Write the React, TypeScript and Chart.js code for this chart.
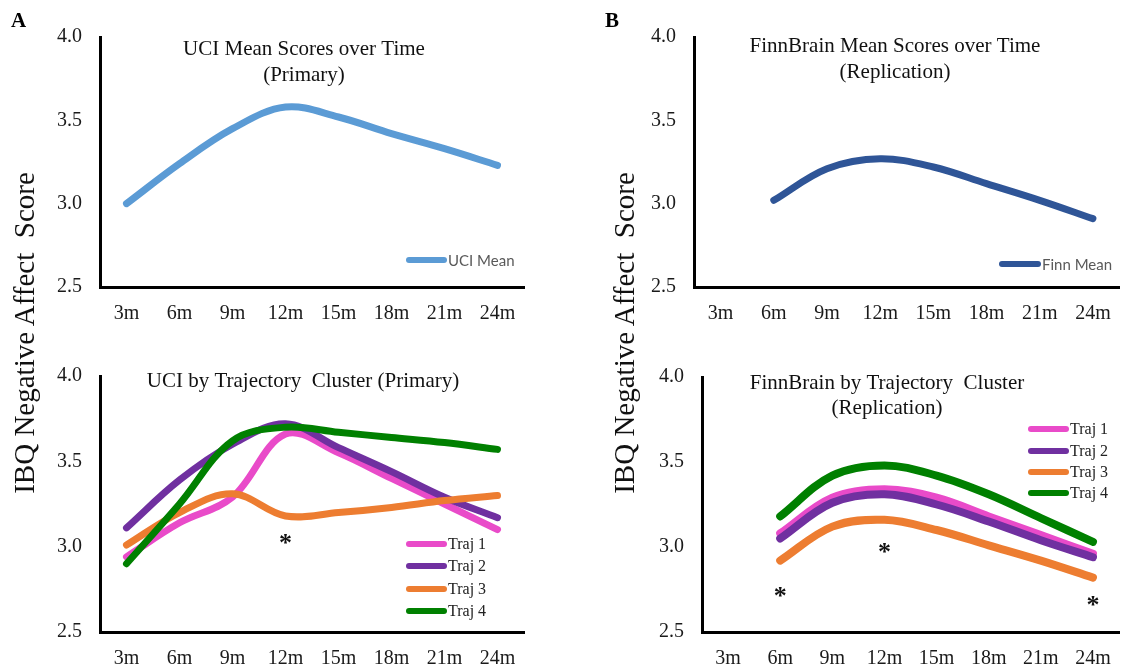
import React, { useEffect, useRef } from "react";
import { Chart, registerables } from "chart.js";
Chart.register(...registerables);

// ---------- data ----------
const months = ["3m", "6m", "9m", "12m", "15m", "18m", "21m", "24m"];
const yTicks = [2.5, 3.0, 3.5, 4.0];

const uciMean = [3.0, 3.24, 3.45, 3.58, 3.52, 3.42, 3.33, 3.23];
const finnMean = [null, 3.02, 3.21, 3.27, 3.22, 3.12, 3.02, 2.91];

const uciTraj1 = [2.94, 3.14, 3.29, 3.66, 3.55, 3.4, 3.25, 3.1];
const uciTraj2 = [3.11, 3.39, 3.6, 3.72, 3.58, 3.44, 3.29, 3.17];
const uciTraj3 = [3.01, 3.2, 3.31, 3.18, 3.2, 3.23, 3.27, 3.3];
const uciTraj4 = [2.9, 3.25, 3.62, 3.7, 3.67, 3.64, 3.61, 3.57];

const finnTraj1 = [null, 3.08, 3.29, 3.34, 3.29, 3.18, 3.07, 2.96];
const finnTraj2 = [null, 3.05, 3.26, 3.31, 3.25, 3.15, 3.04, 2.94];
const finnTraj3 = [null, 2.92, 3.12, 3.16, 3.1, 3.01, 2.92, 2.82];
const finnTraj4 = [null, 3.18, 3.42, 3.48, 3.42, 3.31, 3.17, 3.03];

const trajLabels = ["Traj 1", "Traj 2", "Traj 3", "Traj 4"];
const uciStarMonths = ["12m"];
const uciStarValues = [3.05];
const finnStarMonths = ["6m", "12m", "24m"];
const finnStarValues = [2.74, 3.0, 2.69];

// ---------- styles ----------
const COLORS = {
  uci: "#5B9BD5",
  finn: "#2F5597",
  traj: ["#E94BC9", "#7030A0", "#ED7D31", "#008000"],
};
const SERIF = "'Liberation Serif', 'Times New Roman', serif";
const tickFont = { family: SERIF, size: 20 };

const decorPlugin = {
  id: "decor",
  afterDatasetsDraw(chart: any, _args: any, opts: any) {
    const ctx = chart.ctx;
    ctx.save();
    // titles
    ctx.fillStyle = "#111";
    ctx.textAlign = "center";
    ctx.textBaseline = "middle";
    ctx.font = `21px ${SERIF}`;
    (opts.titles || []).forEach((t: any) => ctx.fillText(t.text, t.x, t.y));
    // legend
    const lg = opts.legend;
    if (lg) {
      chart.data.datasets.forEach((ds: any, i: number) => {
        const y = lg.ys[i];
        ctx.strokeStyle = ds.borderColor;
        ctx.lineWidth = 6;
        ctx.lineCap = "round";
        ctx.beginPath();
        ctx.moveTo(lg.x0 + 3, y);
        ctx.lineTo(lg.x1 - 3, y);
        ctx.stroke();
        ctx.fillStyle = lg.color;
        ctx.font = lg.font;
        ctx.textAlign = "left";
        ctx.textBaseline = "middle";
        ctx.fillText(ds.label, lg.x1 + 1, y + 1);
      });
    }
    // significance stars
    const st = opts.stars;
    if (st) {
      const xs = chart.scales.x;
      const ys = chart.scales.y;
      ctx.fillStyle = "#111";
      ctx.font = `bold 26px ${SERIF}`;
      ctx.textAlign = "center";
      ctx.textBaseline = "alphabetic";
      st.months.forEach((m: string, i: number) => {
        const px = xs.getPixelForValue(months.indexOf(m));
        const py = ys.getPixelForValue(st.values[i]);
        ctx.fillText("*", px, py + 26 * 0.5);
      });
    }
    ctx.restore();
  },
};

type Panel = {
  w: number;
  h: number;
  left: number;
  right: number;
  top: number;
  bottom: number;
  lineWidth: number;
  datasets: { label: string; data: (number | null)[]; color: string }[];
  decor: any;
};

function buildConfig(p: Panel): any {
  return {
    type: "line",
    data: {
      labels: months,
      datasets: p.datasets.map((d, i) => ({
        label: d.label,
        data: d.data,
        borderColor: d.color,
        backgroundColor: d.color,
        borderWidth: p.lineWidth,
        pointRadius: 0,
        tension: 0.36,
        borderCapStyle: "round",
        borderJoinStyle: "round",
        fill: false,
        order: p.datasets.length - i,
      })),
    },
    options: {
      responsive: false,
      maintainAspectRatio: false,
      animation: false,
      devicePixelRatio: 1,
      layout: { padding: { left: 0, top: p.top, right: p.w - p.right, bottom: 0 } },
      plugins: {
        legend: { display: false },
        tooltip: { enabled: false },
        title: { display: false },
        decor: p.decor,
      },
      scales: {
        x: {
          type: "category",
          offset: true,
          grid: { display: false, drawTicks: false },
          border: { display: true, color: "#000", width: 3 },
          ticks: { font: tickFont, color: "#1a1a1a", padding: 15, maxRotation: 0, autoSkip: false },
          afterFit: (s: any) => {
            s.height = p.h - p.bottom;
          },
        },
        y: {
          min: 2.5,
          max: 4.0,
          grid: { display: false, drawTicks: false },
          border: { display: true, color: "#000", width: 3 },
          afterBuildTicks: (s: any) => {
            s.ticks = yTicks.map((v) => ({ value: v }));
          },
          ticks: {
            font: tickFont,
            color: "#1a1a1a",
            padding: 18,
            callback: (v: any) => Number(v).toFixed(1),
          },
          afterFit: (s: any) => {
            s.width = p.left;
          },
        },
      },
    },
    plugins: [decorPlugin],
  };
}

function ChartPanel({ x, y, panel }: { x: number; y: number; panel: Panel }) {
  const ref = useRef<HTMLCanvasElement | null>(null);
  useEffect(() => {
    if (!ref.current) return;
    const chart = new Chart(ref.current, buildConfig(panel));
    return () => chart.destroy();
  }, []);
  return (
    <canvas
      ref={ref}
      width={panel.w}
      height={panel.h}
      style={{ position: "absolute", left: x, top: y, width: panel.w, height: panel.h }}
    />
  );
}

const trajSets = (vals: (number | null)[][]) =>
  vals.map((v, i) => ({ label: trajLabels[i], data: v, color: COLORS.traj[i] }));

const panelTL: Panel = {
  w: 560, h: 340, left: 100, right: 524, top: 37, bottom: 287, lineWidth: 7,
  datasets: [{ label: "UCI Mean", data: uciMean, color: COLORS.uci }],
  decor: {
    titles: [
      { text: "UCI Mean Scores over Time", x: 304, y: 49 },
      { text: "(Primary)", x: 304, y: 75 },
    ],
    legend: { x0: 406, x1: 447, ys: [260], font: "15px Lato, 'Liberation Sans', sans-serif", color: "#595959" },
  },
};

const panelTR: Panel = {
  w: 566, h: 340, left: 134, right: 561, top: 37, bottom: 287, lineWidth: 7,
  datasets: [{ label: "Finn Mean", data: finnMean, color: COLORS.finn }],
  decor: {
    titles: [
      { text: "FinnBrain Mean Scores over Time", x: 335, y: 46 },
      { text: "(Replication)", x: 335, y: 72 },
    ],
    legend: { x0: 439, x1: 481, ys: [264], font: "15px Lato, 'Liberation Sans', sans-serif", color: "#595959" },
  },
};

const panelBL: Panel = {
  w: 560, h: 328, left: 100, right: 524, top: 36, bottom: 292, lineWidth: 7,
  datasets: trajSets([uciTraj1, uciTraj2, uciTraj3, uciTraj4]),
  decor: {
    titles: [{ text: "UCI by Trajectory  Cluster (Primary)", x: 303, y: 41 }],
    legend: { x0: 406, x1: 447, ys: [204, 226, 249, 271], font: `16px ${SERIF}`, color: "#222" },
    stars: { months: uciStarMonths, values: uciStarValues },
  },
};

const panelBR: Panel = {
  w: 566, h: 328, left: 142, right: 562, top: 37, bottom: 292, lineWidth: 8,
  datasets: trajSets([finnTraj1, finnTraj2, finnTraj3, finnTraj4]),
  decor: {
    titles: [
      { text: "FinnBrain by Trajectory  Cluster", x: 327, y: 43 },
      { text: "(Replication)", x: 327, y: 68 },
    ],
    legend: { x0: 468, x1: 509, ys: [89, 111, 132, 153], font: `16px ${SERIF}`, color: "#222" },
    stars: { months: finnStarMonths, values: finnStarValues },
  },
};

const yTitleStyle: React.CSSProperties = {
  position: "absolute",
  top: 333,
  fontFamily: SERIF,
  fontSize: 29,
  lineHeight: "32px",
  color: "#111",
  whiteSpace: "pre",
  transform: "translate(-50%, -50%) rotate(-90deg)",
};

const letterStyle: React.CSSProperties = {
  position: "absolute",
  fontFamily: SERIF,
  fontWeight: "bold",
  fontSize: 21,
  lineHeight: "21px",
  color: "#000",
};

export default function App() {
  return (
    <div style={{ position: "absolute", left: 0, top: 0, width: 1126, height: 668, background: "#fff", overflow: "hidden" }}>
      <ChartPanel x={0} y={0} panel={panelTL} />
      <ChartPanel x={560} y={0} panel={panelTR} />
      <ChartPanel x={0} y={340} panel={panelBL} />
      <ChartPanel x={560} y={340} panel={panelBR} />
      <div style={{ ...letterStyle, left: 11, top: 10 }}>A</div>
      <div style={{ ...letterStyle, left: 605, top: 10 }}>B</div>
      <div style={{ ...yTitleStyle, left: 24 }}>{"IBQ Negative Affect  Score"}</div>
      <div style={{ ...yTitleStyle, left: 624 }}>{"IBQ Negative Affect  Score"}</div>
    </div>
  );
}
